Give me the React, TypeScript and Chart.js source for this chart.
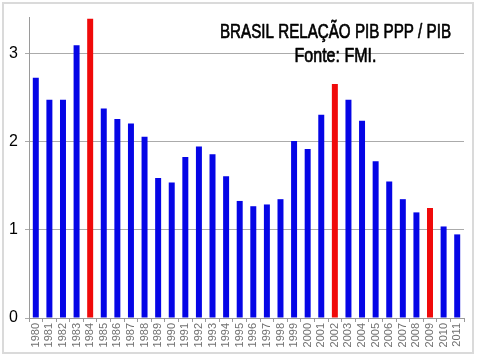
import React, { useEffect, useRef } from "react";
import { Chart, registerables } from "chart.js";

Chart.register(...registerables);

const years: string[] = [
  "1980", "1981", "1982", "1983", "1984", "1985", "1986", "1987", "1988", "1989",
  "1990", "1991", "1992", "1993", "1994", "1995", "1996", "1997", "1998", "1999",
  "2000", "2001", "2002", "2003", "2004", "2005", "2006", "2007", "2008", "2009",
  "2010", "2011",
];

const ratio: number[] = [
  2.73, 2.48, 2.48, 3.10, 3.40, 2.38, 2.26, 2.21, 2.06, 1.59,
  1.54, 1.83, 1.95, 1.86, 1.61, 1.33, 1.27, 1.29, 1.35, 2.01,
  1.92, 2.31, 2.66, 2.48, 2.24, 1.78, 1.55, 1.35, 1.20, 1.25,
  1.04, 0.95,
];

const highlightYears: string[] = ["1984", "2002", "2009"];

const titleLines: string[] = ["BRASIL RELAÇÃO PIB PPP / PIB", "Fonte: FMI."];

const yTicks: number[] = [0, 1, 2, 3];

const BLUE = "#0505e6";
const RED = "#f00a0a";

const titlePlugin = {
  id: "slideTitle",
  afterDraw(chart: any) {
    const ctx = chart.ctx as CanvasRenderingContext2D;
    const specs = [
      { text: titleLines[0], cx: 335.5, y: 37.5, w: 231 },
      { text: titleLines[1], cx: 335.5, y: 61.5, w: 82 },
    ];
    ctx.save();
    ctx.fillStyle = "#000";
    ctx.strokeStyle = "#000";
    ctx.lineJoin = "round";
    ctx.font = "21px 'Liberation Sans', Arial, sans-serif";
    ctx.textAlign = "left";
    ctx.textBaseline = "alphabetic";
    for (const s of specs) {
      const m = ctx.measureText(s.text).width;
      const k = s.w / m;
      ctx.save();
      ctx.translate(s.cx - s.w / 2, s.y);
      ctx.scale(k, 1);
      ctx.fillText(s.text, 0, 0);
      ctx.lineWidth = 0.7;
      ctx.strokeText(s.text, 0, 0);
      ctx.restore();
    }
    ctx.restore();
  },
};

export default function App() {
  const ref = useRef<HTMLCanvasElement | null>(null);

  useEffect(() => {
    if (!ref.current) return;
    const chart = new Chart(ref.current, {
      type: "bar",
      data: {
        labels: years,
        datasets: [
          {
            data: ratio,
            backgroundColor: years.map((y) => (highlightYears.includes(y) ? RED : BLUE)),
            borderWidth: 0,
            barPercentage: 0.44,
            categoryPercentage: 1,
          },
        ],
      },
      options: {
        responsive: false,
        animation: false,
        events: [],
        layout: { padding: { left: 4, right: 16, top: 17, bottom: 0 } },
        plugins: {
          legend: { display: false },
          tooltip: { enabled: false },
          title: { display: false },
        },
        scales: {
          x: {
            grid: {
              offset: true,
              drawOnChartArea: false,
              tickLength: 4,
              color: "#9a9a9a",
            },
            border: { color: "#9a9a9a" },
            ticks: {
              minRotation: 90,
              maxRotation: 90,
              autoSkip: false,
              padding: 1,
              color: "#707070",
              font: { family: "'Liberation Sans', Arial, sans-serif", size: 11 },
            },
            afterFit(scale: any) {
              scale.height = 42;
            },
          },
          y: {
            min: 0,
            max: 3.42,
            afterBuildTicks(scale: any) {
              scale.ticks = yTicks.map((v) => ({ value: v }));
            },
            grid: { color: "#ababab", tickLength: 4, lineWidth: 1 },
            border: { color: "#9a9a9a" },
            ticks: {
              padding: 7,
              color: "#000",
              font: { family: "'Liberation Sans', Arial, sans-serif", size: 16 },
            },
            afterFit(scale: any) {
              scale.width = 25;
            },
          },
        },
      },
      plugins: [titlePlugin],
    });
    return () => chart.destroy();
  }, []);

  return (
    <div
      style={{
        position: "fixed",
        left: 0,
        top: 0,
        width: 480,
        height: 360,
        background: "#fff",
      }}
    >
      <canvas ref={ref} width={480} height={360} style={{ position: "absolute", left: 0, top: 0 }} />
      <div
        style={{
          position: "absolute",
          left: 2,
          top: 2,
          width: 472,
          height: 352,
          border: "2px solid #dadada",
          boxSizing: "border-box",
          pointerEvents: "none",
        }}
      />
    </div>
  );
}
